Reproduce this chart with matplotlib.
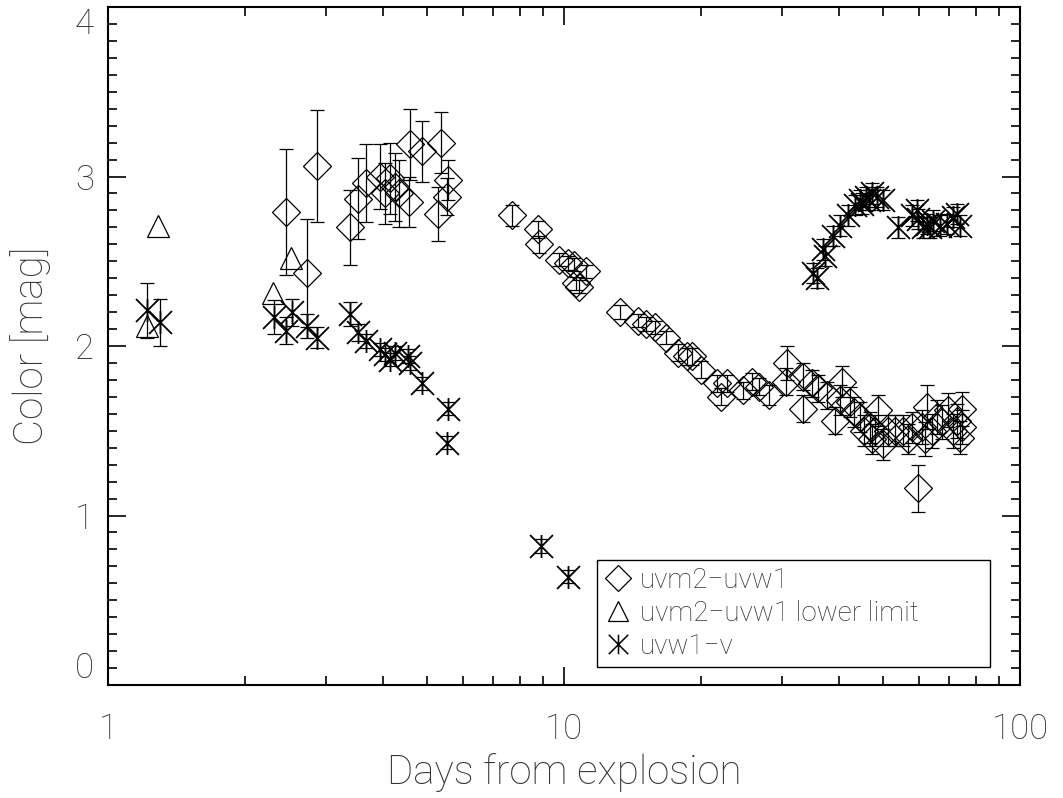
import matplotlib
matplotlib.use("Agg")
import matplotlib.pyplot as plt
from matplotlib.path import Path
from matplotlib.lines import Line2D
from matplotlib.ticker import LogLocator, MultipleLocator, FixedLocator, FixedFormatter
import numpy as np

# uvm2-uvw1 colour (diamonds with error bars)
uvm2_days = [2.46, 2.87, 2.73,
             3.39, 3.53, 3.68, 3.95, 4.05, 4.15, 4.26, 4.34, 4.57, 4.59, 4.88, 5.37, 5.29, 5.56, 5.53,
             7.69, 8.76, 8.80, 9.75, 10.2, 10.5, 11.2, 10.6, 10.8,
             13.3, 14.5, 15.1, 15.8, 16.7, 17.8, 18.6, 19.1, 20.0, 21.6, 22.1, 22.8, 24.7, 25.9, 26.8, 28.2,
             30.9, 30.7, 33.4, 33.4, 34.9, 36.0, 37.7, 39.2, 40.7, 40.2, 42.3, 43.3, 44.5, 45.6, 46.8, 47.3,
             48.0, 48.8, 50.0, 51.3, 53.1, 55.3, 56.7, 58.1, 59.6, 62.4, 60.9, 61.8, 64.0, 65.7, 67.6, 69.4,
             71.2, 72.6, 74.7, 74.7, 73.9]
uvm2_color = [2.79, 3.06, 2.43,
              2.70, 2.87, 2.96, 3.00, 2.90, 2.99, 2.94, 2.90, 2.85, 3.19, 3.15, 3.20, 2.78, 2.98, 2.88,
              2.77, 2.69, 2.60, 2.51, 2.49, 2.48, 2.44, 2.37, 2.35,
              2.20, 2.15, 2.13, 2.11, 2.05, 1.96, 1.94, 1.94, 1.86, 1.78, 1.70, 1.78, 1.74, 1.79, 1.76, 1.71,
              1.90, 1.79, 1.82, 1.63, 1.78, 1.75, 1.71, 1.56, 1.79, 1.68, 1.67, 1.61, 1.58, 1.50, 1.52, 1.45,
              1.50, 1.62, 1.42, 1.50, 1.50, 1.50, 1.45, 1.52, 1.16, 1.64, 1.52, 1.45, 1.50, 1.58, 1.55, 1.62,
              1.50, 1.56, 1.63, 1.52, 1.46]
uvm2_err = [0.37, 0.33, 0.32,
            0.22, 0.24, 0.23, 0.19, 0.18, 0.21, 0.20, 0.20, 0.15, 0.21, 0.18, 0.18, 0.16, 0.12, 0.11,
            0.06, 0.05, 0.05, 0.04, 0.04, 0.04, 0.04, 0.04, 0.04,
            0.04, 0.04, 0.04, 0.04, 0.04, 0.05, 0.05, 0.05, 0.05, 0.05, 0.05, 0.05, 0.05, 0.05, 0.05, 0.06,
            0.10, 0.08, 0.08, 0.08, 0.08, 0.08, 0.08, 0.08, 0.09, 0.09, 0.09, 0.09, 0.09, 0.09, 0.09, 0.09,
            0.09, 0.09, 0.09, 0.09, 0.09, 0.09, 0.09, 0.09, 0.14, 0.13, 0.10, 0.10, 0.10, 0.10, 0.10, 0.10,
            0.10, 0.10, 0.10, 0.10, 0.10]

# uvm2-uvw1 lower limits (triangles)
limit_days = [1.22, 1.29, 2.30, 2.52]
limit_color = [2.12, 2.71, 2.31, 2.52]

# uvw1-v colour (asterisks with error bars)
uvw1_days = [1.22, 1.30,
             2.31, 2.46, 2.53, 2.73, 2.87,
             3.39, 3.53, 3.68, 3.95, 4.05, 4.15, 4.27, 4.55, 4.59, 4.88, 5.56, 5.53,
             8.91, 10.2,
             35.9, 35.2, 37.4, 37.0, 38.8, 40.3, 41.9, 43.4, 44.5, 46.0, 47.4, 48.6, 50.0, 46.7, 45.1,
             54.0, 58.1, 59.6, 61.2, 62.5, 64.5, 66.6, 69.1, 71.2, 72.9, 73.7, 59.3, 63.5]
uvw1_color = [2.21, 2.14,
              2.17, 2.09, 2.20, 2.12, 2.05,
              2.19, 2.08, 2.03, 1.98, 1.95, 1.92, 1.96, 1.94, 1.90, 1.78, 1.63, 1.43,
              0.82, 0.64,
              2.40, 2.43, 2.53, 2.57, 2.65, 2.71, 2.77, 2.83, 2.86, 2.88, 2.90, 2.88, 2.86, 2.86, 2.84,
              2.70, 2.77, 2.75, 2.70, 2.72, 2.74, 2.71, 2.72, 2.76, 2.78, 2.71, 2.80, 2.70]
uvw1_err = [0.16, 0.14,
            0.10, 0.08, 0.08, 0.07, 0.06,
            0.07, 0.05, 0.04, 0.04, 0.04, 0.04, 0.04, 0.04, 0.04, 0.04, 0.04, 0.04,
            0.04, 0.04,
            0.06, 0.06, 0.06, 0.06, 0.06, 0.06, 0.06, 0.06, 0.06, 0.06, 0.06, 0.06, 0.06, 0.06, 0.06,
            0.06, 0.06, 0.06, 0.06, 0.06, 0.06, 0.06, 0.06, 0.06, 0.06, 0.06, 0.06, 0.06]

x_ticks = [1, 10, 100]
x_labels = ["1", "10", "100"]
y_ticks = [0, 1, 2, 3, 4]
legend_labels = ["uvm2\u2212uvw1", "uvm2\u2212uvw1 lower limit", "uvw1\u2212v"]

FONT = "Roboto"
WEIGHT = "light"
TXT = "#333333"

# IDL style asterisk: X plus a vertical bar
star = Path([(-1, -1), (1, 1), (-1, 1), (1, -1), (0, -1), (0, 1)],
            [Path.MOVETO, Path.LINETO, Path.MOVETO, Path.LINETO, Path.MOVETO, Path.LINETO])

fig = plt.figure(figsize=(10.63, 7.98), dpi=100)
ax = fig.add_axes([108 / 1063, 113 / 798, 912 / 1063, 678 / 798])

ax.errorbar(uvm2_days, uvm2_color, yerr=uvm2_err, fmt="D", ms=14, mfc="none", mec="black",
            mew=0.9, ecolor="black", elinewidth=0.9, capsize=5, capthick=0.9, ls="none")
ax.plot(limit_days, limit_color, "^", ms=16, mfc="none", mec="black", mew=0.9, ls="none")
ax.errorbar(uvw1_days, uvw1_color, yerr=uvw1_err, fmt="none", ecolor="black", elinewidth=0.9,
            capsize=5, capthick=0.9)
ax.plot(uvw1_days, uvw1_color, marker=star, ms=16.5, mfc="none", mec="black", mew=1.3, ls="none")

ax.set_xscale("log")
ax.set_xlim(1, 100)
ax.set_ylim(0, 4)

ax.xaxis.set_major_locator(FixedLocator(x_ticks))
ax.xaxis.set_major_formatter(FixedFormatter(x_labels))
ax.xaxis.set_minor_locator(LogLocator(base=10, subs=np.arange(2, 10)))
ax.xaxis.set_minor_formatter(FixedFormatter([]))
ax.yaxis.set_major_locator(FixedLocator(y_ticks))
ax.yaxis.set_minor_locator(MultipleLocator(0.1))

for s in ax.spines.values():
    s.set_linewidth(1.5)
ax.tick_params(which="both", direction="in", top=True, right=True, width=1.2, colors="black")
ax.tick_params(which="major", length=13)
ax.tick_params(which="minor", length=6.5)
ax.tick_params(axis="x", which="major", pad=20)
ax.tick_params(axis="y", which="major", pad=10)

for lab in ax.get_xticklabels() + ax.get_yticklabels():
    lab.set_fontfamily(FONT)
    lab.set_fontweight(WEIGHT)
    lab.set_fontsize(25)
    lab.set_color(TXT)
ylabs = ax.get_yticklabels()
ylabs[0].set_va("bottom")
ylabs[-1].set_va("top")

ax.set_xlabel("Days from explosion", fontsize=29, family=FONT, fontweight=WEIGHT, color=TXT,
              labelpad=5)
ax.set_ylabel("Color [mag]", fontsize=29, family=FONT, fontweight=WEIGHT, color=TXT, labelpad=17)

handles = [
    Line2D([], [], marker="D", ms=13, mfc="none", mec="black", mew=0.9, ls="none"),
    Line2D([], [], marker="^", ms=15, mfc="none", mec="black", mew=0.9, ls="none"),
    Line2D([], [], marker=star, ms=14, mfc="none", mec="black", mew=1.1, ls="none"),
]
leg = ax.legend(handles, legend_labels, loc="lower left",
                bbox_to_anchor=(0.536, 0.0265, 0.431, 0.158), mode="expand",
                frameon=True, fancybox=False, framealpha=1, edgecolor="black",
                prop={"family": FONT, "size": 20, "weight": WEIGHT}, handlelength=1.0,
                handletextpad=0.3, labelspacing=0.22, borderpad=0.25, borderaxespad=0)
leg.get_frame().set_linewidth(1.0)
for t in leg.get_texts():
    t.set_color(TXT)

fig.savefig("out.png", dpi=100)
